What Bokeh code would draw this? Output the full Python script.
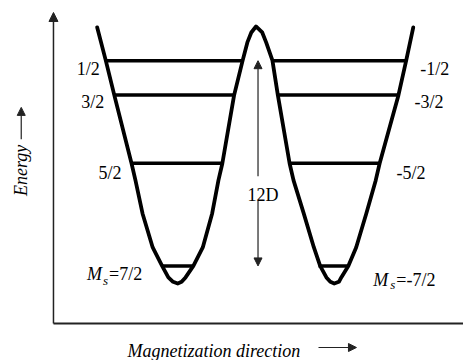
import math
from bokeh.plotting import figure
from bokeh.models import Range1d, ColumnDataSource, Arrow, NormalHead
from bokeh.core.properties import value
from bokeh.embed import file_html
from bokeh.resources import INLINE

# ---- data ----
# double-well energy curve: x = magnetization direction (wells at -1 and +1), E in units of D
curve_x = [-2.03, -1.92, -1.81, -1.59, -1.54, -1.45, -1.32, -1.20, -1.12, -1.06, -1.00,
           -0.95, -0.90, -0.80, -0.68, -0.56, -0.48, -0.43, -0.28, -0.17, -0.11, -0.06,
           0.00, 0.08, 0.13, 0.21, 0.28, 0.43, 0.48, 0.61, 0.74, 0.82, 0.90, 0.95,
           1.00, 1.06, 1.09, 1.18, 1.28, 1.41, 1.53, 1.58, 1.82, 1.92, 2.01]
curve_E = [1.70, -0.23, -2.28, -6.26, -7.25, -9.18, -11.17, -12.25, -12.92, -13.18, -13.28,
           -13.18, -12.92, -12.25, -11.17, -9.18, -7.25, -6.26, -2.28, -0.23, 0.82, 1.40,
           1.75, 1.40, 0.82, -0.23, -2.28, -6.26, -7.25, -9.18, -11.17, -12.25, -12.92, -13.18,
           -13.28, -13.18, -12.92, -12.25, -11.17, -9.18, -7.25, -6.26, -2.28, -0.23, 1.70]

# Ms levels (E = -D Ms^2)
ms_left = ["1/2", "3/2", "5/2", "7/2"]
ms_right = ["-1/2", "-3/2", "-5/2", "-7/2"]
level_E = [-0.25, -2.25, -6.25, -12.25]
left_x0 = [-1.92, -1.81, -1.59, -1.20]
left_x1 = [-0.17, -0.28, -0.43, -0.80]
right_x0 = [0.21, 0.28, 0.43, 0.80]
right_x1 = [1.92, 1.82, 1.58, 1.18]
barrier_text = "12D"
x_title = "Magnetization direction"
y_title = "Energy"

# ---- figure ----
FONT = value("Liberation Serif")
p = figure(width=463, height=360, x_range=Range1d(-3.265, 2.652), y_range=Range1d(-17.78, 3.27),
           output_backend="svg", toolbar_location=None, x_axis_type=None, y_axis_type=None,
           min_border=0)
p.outline_line_color = None
p.background_fill_color = "white"
p.border_fill_color = "white"

# axes (drawn by hand)
AX_X, AX_Y = -2.588, -15.61
p.segment(x0=[AX_X], y0=[AX_Y], x1=[2.652], y1=[AX_Y], line_width=2, line_color="#222")
p.add_layout(Arrow(end=NormalHead(size=9, fill_color="#222", line_color="#222", line_width=1),
                   x_start=AX_X, y_start=AX_Y, x_end=AX_X, y_end=2.57,
                   line_width=1.5, line_color="#222"))

# energy curve
p.line(curve_x, curve_E, line_width=3.8, line_color="black", line_join="round", line_cap="round")

# level lines
p.segment(x0=left_x0, y0=level_E, x1=left_x1, y1=level_E, line_width=3.5, line_color="black")
p.segment(x0=right_x0, y0=level_E, x1=right_x1, y1=level_E, line_width=3.5, line_color="black")

# level labels
lsrc = ColumnDataSource(dict(x=left_x0[:3], y=level_E[:3], t=ms_left[:3],
                             xo=[-6, -10, -10], yo=[8, 7.5, 10]))
p.text(x="x", y="y", text="t", x_offset="xo", y_offset="yo", source=lsrc,
       text_font=FONT, text_font_size="18px", text_align="right",
       text_baseline="alphabetic", text_color="black")
rsrc = ColumnDataSource(dict(x=right_x1[:3], y=level_E[:3], t=ms_right[:3],
                             xo=[14, 16, 17], yo=[8, 7.5, 10]))
p.text(x="x", y="y", text="t", x_offset="xo", y_offset="yo", source=rsrc,
       text_font=FONT, text_font_size="18px", text_align="left",
       text_baseline="alphabetic", text_color="black")

# M_s labels of the ground levels
msrc = ColumnDataSource(dict(x=[left_x0[3], right_x1[3]], y=[level_E[3], level_E[3]],
                             t=["M", "M"], xo=[-75, 25], yo=[8.5, 14.5]))
p.text(x="x", y="y", text="t", x_offset="xo", y_offset="yo", source=msrc,
       text_font=FONT, text_font_size="18px", text_font_style="italic",
       text_align="left", text_baseline="alphabetic", text_color="black")
ssrc = ColumnDataSource(dict(x=[left_x0[3], right_x1[3]], y=[level_E[3], level_E[3]],
                             t=["s", "s"], xo=[-59, 42], yo=[14.5, 18.5]))
p.text(x="x", y="y", text="t", x_offset="xo", y_offset="yo", source=ssrc,
       text_font=FONT, text_font_size="13px", text_font_style="italic",
       text_align="left", text_baseline="alphabetic", text_color="black")
esrc = ColumnDataSource(dict(x=[left_x0[3], right_x1[3]], y=[level_E[3], level_E[3]],
                             t=["=" + ms_left[3], "=" + ms_right[3]], xo=[-53, 48], yo=[8.5, 14.5]))
p.text(x="x", y="y", text="t", x_offset="xo", y_offset="yo", source=esrc,
       text_font=FONT, text_font_size="18px", text_align="left",
       text_baseline="alphabetic", text_color="black")

# 12D barrier arrow (line interrupted by its label)
BX = 0.026
GAP_TOP, GAP_BOT = -7.0, -8.45
head = dict(size=8, fill_color="#222", line_color="#222", line_width=1)
p.add_layout(Arrow(end=NormalHead(**head), x_start=BX, y_start=GAP_TOP, x_end=BX, y_end=level_E[0],
                   line_width=1.2, line_color="#222"))
p.add_layout(Arrow(end=NormalHead(**head), x_start=BX, y_start=GAP_BOT, x_end=BX, y_end=level_E[3],
                   line_width=1.2, line_color="#222"))
p.text(x=[BX], y=[-8.13], text=[barrier_text], x_offset=5, text_font=FONT, text_font_size="18px",
       text_align="center", text_baseline="alphabetic", text_color="black")

# axis titles with arrows
p.text(x=[-3.0], y=[-6.667], text=[y_title], angle=math.pi / 2, text_font=FONT,
       text_font_size="18px", text_font_style="italic", text_align="center",
       text_baseline="middle", text_color="black")
p.add_layout(Arrow(end=NormalHead(**head), x_start=-3.0, y_start=-4.85, x_end=-3.0, y_end=-2.98,
                   line_width=1.2, line_color="#222"))
p.text(x=[-1.642], y=[-17.25], text=[x_title], text_font=FONT, text_font_size="18px",
       text_font_style="italic", text_align="left", text_baseline="alphabetic", text_color="black")
p.add_layout(Arrow(end=NormalHead(**head), x_start=0.799, y_start=-17.02, x_end=1.284, y_end=-17.02,
                   line_width=1.2, line_color="#222"))

open("out.html", "w").write(file_html(p, INLINE))
